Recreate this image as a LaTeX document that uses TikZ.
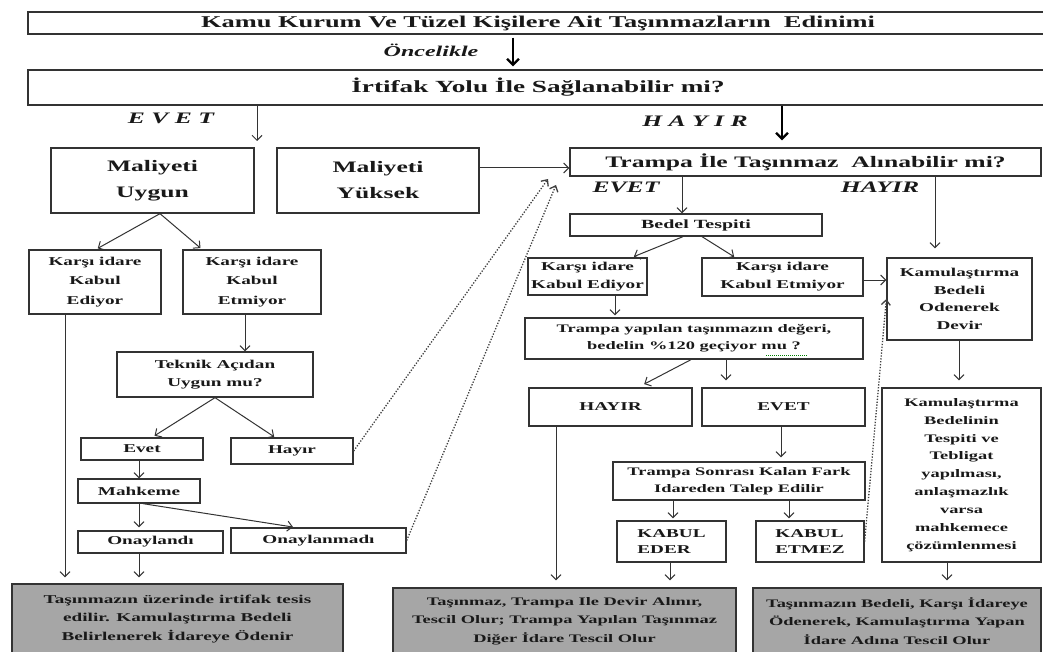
\documentclass[tikz,border=0pt]{standalone}
\usepackage{fontspec}
\setmainfont{Liberation Serif}[FakeStretch=1.6]
\usetikzlibrary{arrows.meta,calc}
\newcommand\fz[2]{\fontsize{#1}{#2}\selectfont}
\begin{document}
\begin{tikzpicture}[x=1pt,y=-1pt,
  box/.style={draw=black!80, line width=1.3pt, fill=white, inner sep=0pt, align=center, text=black!90},
  graybox/.style={box, fill=black!35},
  lbl/.style={inner sep=0pt, text=black!90, font=\bfseries\itshape\fz{16}{18}},
  arr/.style={draw=black!80, line width=1pt, -{Straight Barb[length=5pt,width=10pt]}},
  bigarr/.style={draw=black, line width=2.2pt, -{Straight Barb[length=6pt,width=12pt]}},
  dotarr/.style={draw=black!75, line width=1.3pt, dash pattern=on 1.3pt off 1.6pt, -{Straight Barb[length=5pt,width=9pt]}}
]
\useasboundingbox (0,0) rectangle (1043,652);
\clip (0,0) rectangle (1043,652);
\fill[white] (0,0) rectangle (1043,652);

% top of the chart
\node[box, minimum width=1020, minimum height=22, font=\bfseries\fz{16.5}{18}] (title) at (538,23)
  {Kamu Kurum Ve Tüzel Kişilere Ait Taşınmazların\ \ Edinimi};
\node[box, minimum width=1020, minimum height=35, font=\bfseries\fz{17}{18}] (box2) at (538,87.5)
  {İrtifak Yolu İle Sağlanabilir mi?};
\node[lbl, font=\bfseries\itshape\fz{15}{18}] (oncelikle) at (431,50) {Öncelikle};
\node[lbl] (evetA) at (171,118) {E V E T};
\node[lbl] (hayirA) at (695,121) {H A Y I R};

% right branch
\node[box, minimum width=471, minimum height=28, font=\bfseries\fz{16}{18}] (trampa) at (805.5,162)
  {Trampa İle Taşınmaz\ \ Alınabilir mi?};
\node[lbl] (evetB) at (626,187) {EVET};
\node[lbl] (hayirB) at (880,187) {HAYIR};
\node[box, minimum width=252, minimum height=22, font=\bfseries\fz{12.5}{18}] (bedel) at (696,225) {Bedel Tespiti};
\node[box, minimum width=119, minimum height=37, font=\bfseries\fz{12}{18}] (kike) at (587.5,276.5)
  {Karşı idare\\Kabul Ediyor};
\node[box, minimum width=161, minimum height=38, font=\bfseries\fz{12}{18}] (kiket) at (782.5,277)
  {Karşı idare\\Kabul Etmiyor};
\node[box, minimum width=145, minimum height=82, font=\bfseries\fz{12}{17.7}] (kbod) at (959.5,299)
  {Kamulaştırma\\Bedeli\\Odenerek\\Devir};
\node[box, minimum width=338, minimum height=41, font=\bfseries\fz{11.5}{17}] (ty) at (694,338.5)
  {Trampa yapılan taşınmazın değeri,\\bedelin \%120 geçiyor mu ?};
\node[box, minimum width=163, minimum height=38, font=\bfseries\fz{12}{18}] (hayirR) at (610.5,407) {HAYIR};
\node[box, minimum width=163, minimum height=38, font=\bfseries\fz{12}{18}] (evetR) at (783.5,407) {EVET};
\node[box, minimum width=252, minimum height=38, font=\bfseries\fz{11.5}{16.5}] (sonra) at (739,481)
  {Trampa Sonrası Kalan Fark\\Idareden Talep Edilir};
\node[box, minimum width=109, minimum height=41, align=left, font=\bfseries\fz{12}{16}] (keder) at (671.5,541.5)
  {KABUL\\EDER};
\node[box, minimum width=108, minimum height=41, align=left, font=\bfseries\fz{12}{16}] (ketmez) at (810,541.5)
  {KABUL\\ETMEZ};
\node[box, minimum width=159, minimum height=174, font=\bfseries\fz{11.5}{17.9}] (bedelinin) at (961.5,475)
  {Kamulaştırma\\Bedelinin\\Tespiti ve\\Tebligat\\yapılması,\\anlaşmazlık\\varsa\\mahkemece\\çözümlenmesi};

% left branch
\node[box, minimum width=203, minimum height=65, font=\bfseries\fz{16}{26}] (uygun) at (152.5,180.5) {Maliyeti\\Uygun};
\node[box, minimum width=202, minimum height=65, font=\bfseries\fz{16}{26}] (yuksek) at (378,180.5) {Maliyeti\\Yüksek};
\node[box, minimum width=132, minimum height=64, font=\bfseries\fz{12}{19.5}] (kle) at (95,282) {Karşı idare\\Kabul\\Ediyor};
\node[box, minimum width=138, minimum height=64, font=\bfseries\fz{12}{19.5}] (klet) at (252,282) {Karşı idare\\Kabul\\Etmiyor};
\node[box, minimum width=196, minimum height=45, font=\bfseries\fz{12}{18}] (teknik) at (215,374.5) {Teknik Açıdan\\Uygun mu?};
\node[box, minimum width=122, minimum height=22, font=\bfseries\fz{12}{18}] (evetL) at (142,449) {Evet};
\node[box, minimum width=122, minimum height=26, font=\bfseries\fz{12}{18}] (hayirL) at (292,451) {Hayır};
\node[box, minimum width=122, minimum height=24, font=\bfseries\fz{12}{18}] (mahkeme) at (139,491) {Mahkeme};
\node[box, minimum width=145, minimum height=22, font=\bfseries\fz{12}{18}] (onaylandi) at (150.5,542) {Onaylandı};
\node[box, minimum width=175, minimum height=25, font=\bfseries\fz{12}{18}] (onaylanmadi) at (318.5,540.5) {Onaylanmadı};

% results
\node[graybox, minimum width=331, minimum height=70, font=\bfseries\fz{12}{18.5}] (gray1) at (177.5,619)
  {Taşınmazın üzerinde irtifak tesis\\edilir. Kamulaştırma Bedeli\\Belirlenerek İdareye Ödenir};
\node[graybox, minimum width=343, minimum height=66, font=\bfseries\fz{11.5}{18.5}] (gray2) at (564.5,621)
  {Taşınmaz, Trampa Ile Devir Alınır,\\Tescil Olur; Trampa Yapılan Taşınmaz\\Diğer İdare Tescil Olur};
\node[graybox, minimum width=288, minimum height=66, font=\bfseries\fz{11.5}{18.5}] (gray3) at (897,621)
  {Taşınmazın Bedeli, Karşı İdareye\\Ödenerek, Kamulaştırma Yapan\\İdare Adına Tescil Olur};

% free ends
\coordinate (evetend) at (257,141);
\coordinate (dotendA) at (548,179);
\coordinate (dotendB) at (556,185);

% connectors: top
\draw[bigarr, shorten <=3pt, shorten >=3pt] ($(title.south)+(-25,0)$) -- ($(box2.north)+(-25,0)$);
\draw[arr] ($(box2.south)+(-281,0)$) -- (evetend);
\draw[bigarr, shorten >=7pt] ($(box2.south)+(244,0)$) -- ($(trampa.north)+(-23.5,0)$);

% connectors: right
\draw[arr] ($(yuksek.east)+(0,-12.5)$) -- ($(trampa.west |- yuksek.east)+(0,-12.5)$);
\draw[arr] ($(trampa.south)+(-123.5,0)$) -- ($(bedel.north)+(-14,0)$);
\draw[arr, shorten >=9pt] ($(trampa.south)+(129.5,0)$) -- ($(kbod.north)+(-24.5,0)$);
\draw[arr, shorten >=2pt] ($(bedel.south)+(-13,0)$) -- ($(kike.north)+(44.5,0)$);
\draw[arr, shorten >=1pt] ($(bedel.south)+(6,0)$) -- ($(kiket.north)+(-47.5,0)$);
\draw[arr] ($(kiket.east)+(0,3)$) -- ($(kbod.west |- kiket.east)+(0,3)$);
\draw[arr, shorten >=2pt] ($(kike.south)+(27.5,0)$) -- ($(ty.north)+(-79,0)$);
\draw[arr, shorten >=7pt] ($(ty.south)+(-3,0)$) -- ($(hayirR.north)+(27.5,0)$);
\draw[arr, shorten >=7pt] ($(ty.south)+(32,0)$) -- ($(evetR.north)+(-57.5,0)$);
\draw[arr, shorten >=4pt] ($(evetR.south)+(-2.5,0)$) -- ($(sonra.north)+(42,0)$);
\draw[arr, shorten >=2pt] ($(sonra.south)+(-66,0)$) -- ($(keder.north)+(1.5,0)$);
\draw[arr, shorten >=2pt] ($(sonra.south)+(50,0)$) -- ($(ketmez.north)+(-21,0)$);
\draw[arr, shorten >=7pt] ($(hayirR.south)+(-54.5,0)$) -- ($(gray2.north)+(-8.5,0)$);
\draw[arr, shorten >=7pt] ($(keder.south)+(-1.5,0)$) -- ($(gray2.north)+(105.5,0)$);
\draw[arr, shorten >=7pt] ($(kbod.south)+(-0.5,0)$) -- ($(bedelinin.north)+(-2.5,0)$);
\draw[arr, shorten >=7pt] ($(bedelinin.south)+(-14.5,0)$) -- ($(gray3.north)+(50,0)$);
\draw[dotarr] (ketmez.east) -- (kbod.west);

% connectors: left
\draw[arr, shorten >=2pt] ($(uygun.south)+(7.5,0)$) -- ($(kle.north)+(1,0)$);
\draw[arr, shorten >=2pt] ($(uygun.south)+(7.5,0)$) -- ($(klet.north)+(-50,0)$);
\draw[arr, shorten >=6pt] ($(kle.south)+(-30,0)$) -- ($(gray1.north)+(-112.5,0)$);
\draw[arr] ($(klet.south)+(-7,0)$) -- ($(teknik.north)+(30,0)$);
\draw[arr, shorten >=3pt] (teknik.south) -- ($(evetL.north)+(10,0)$);
\draw[arr, shorten >=1pt] (teknik.south) -- ($(hayirL.north)+(-17,0)$);
\draw[arr] ($(evetL.south)+(-3,0)$) -- (mahkeme.north);
\draw[arr, shorten >=3pt] ($(mahkeme.south)+(0,0)$) -- ($(onaylandi.north)+(-11.5,0)$);
\draw[arr, shorten >=2pt] ($(mahkeme.south)+(4,0)$) -- ($(onaylanmadi.north)+(-23.5,0)$);
\draw[arr, shorten >=6pt] ($(onaylandi.south)+(-11.5,0)$) -- ($(gray1.north)+(-38.5,0)$);
\draw[dotarr] (hayirL.east) -- (dotendA);
\draw[dotarr] (onaylanmadi.east) -- (dotendB);

% spell-check underline under "mu ?"
\draw[green!50!black, line width=0.8pt, dash pattern=on 1pt off 1pt] ($(ty.center)+(72,17)$) -- ($(ty.center)+(114,17)$);
\end{tikzpicture}
\end{document}
